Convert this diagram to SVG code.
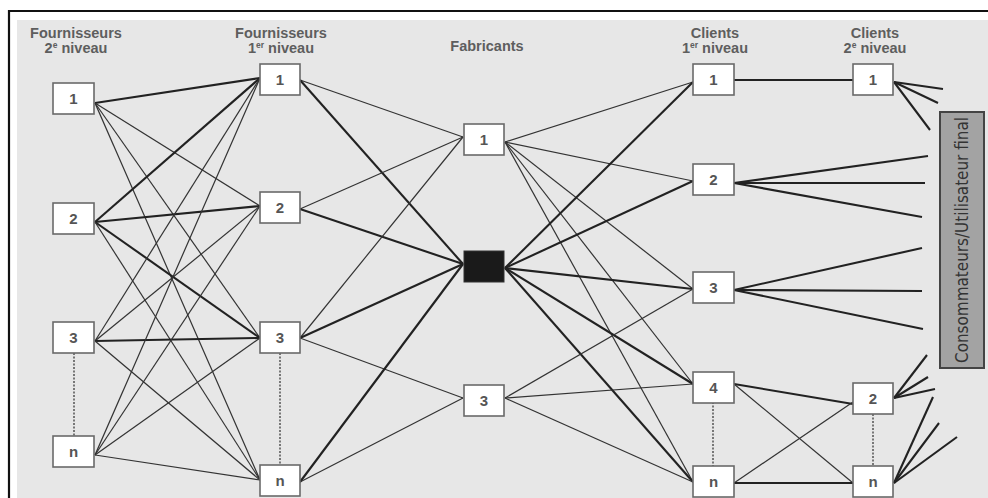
<svg xmlns="http://www.w3.org/2000/svg" width="988" height="498" viewBox="0 0 988 498">
<style>
.hdr{font-family:"Liberation Sans",Arial,sans-serif;font-weight:bold;font-size:14.5px;fill:#5e5e5e;text-anchor:middle}
.sup{font-size:8.5px}
.box{fill:#ffffff;stroke:#6a6a6a;stroke-width:1.6}
.lbl{font-family:"Liberation Sans",Arial,sans-serif;font-weight:bold;font-size:15px;fill:#555;text-anchor:middle}
.T{stroke:#222;stroke-width:2.1;fill:none}
.t{stroke:#333;stroke-width:1.2;fill:none}
.dot{stroke:#777;stroke-width:2;stroke-dasharray:2,1.5;fill:none}
</style>
<rect x="0" y="0" width="988" height="498" fill="#ffffff"/>
<rect x="17" y="20" width="980" height="490" fill="#e7e7e7"/>
<path d="M9 510 V11 H990" fill="none" stroke="#111" stroke-width="2.2"/>

<g id="headers">
<text class="hdr" x="76" y="38">Fournisseurs</text>
<text class="hdr" x="76" y="53">2<tspan class="sup" dy="-5">e</tspan><tspan dy="5"> niveau</tspan></text>
<text class="hdr" x="281" y="38">Fournisseurs</text>
<text class="hdr" x="281" y="53">1<tspan class="sup" dy="-5">er</tspan><tspan dy="5"> niveau</tspan></text>
<text class="hdr" x="487" y="51">Fabricants</text>
<text class="hdr" x="715" y="38">Clients</text>
<text class="hdr" x="715" y="53">1<tspan class="sup" dy="-5">er</tspan><tspan dy="5"> niveau</tspan></text>
<text class="hdr" x="875" y="38">Clients</text>
<text class="hdr" x="875" y="53">2<tspan class="sup" dy="-5">e</tspan><tspan dy="5"> niveau</tspan></text>
</g>

<g id="connectors">
<line class="T" x1="95" y1="103" x2="260" y2="78"/>
<line class="t" x1="95" y1="103" x2="260" y2="206"/>
<line class="t" x1="95" y1="103" x2="260" y2="338"/>
<line class="t" x1="95" y1="103" x2="260" y2="480"/>
<line class="T" x1="95" y1="222" x2="260" y2="78"/>
<line class="T" x1="95" y1="222" x2="260" y2="206"/>
<line class="T" x1="95" y1="222" x2="260" y2="338"/>
<line class="t" x1="95" y1="222" x2="260" y2="480"/>
<line class="t" x1="95" y1="341" x2="260" y2="78"/>
<line class="t" x1="95" y1="341" x2="260" y2="206"/>
<line class="T" x1="95" y1="341" x2="260" y2="338"/>
<line class="t" x1="95" y1="341" x2="260" y2="480"/>
<line class="t" x1="95" y1="455" x2="260" y2="78"/>
<line class="t" x1="95" y1="455" x2="260" y2="206"/>
<line class="t" x1="95" y1="455" x2="260" y2="338"/>
<line class="t" x1="95" y1="455" x2="260" y2="480"/>

<line class="t" x1="300" y1="80" x2="463" y2="137"/>
<line class="T" x1="300" y1="80" x2="463" y2="264"/>
<line class="t" x1="300" y1="209" x2="463" y2="137"/>
<line class="T" x1="300" y1="209" x2="463" y2="264"/>
<line class="t" x1="300" y1="338" x2="463" y2="137"/>
<line class="T" x1="300" y1="338" x2="463" y2="264"/>
<line class="t" x1="300" y1="338" x2="463" y2="398"/>
<line class="T" x1="300" y1="482" x2="463" y2="264"/>
<line class="t" x1="300" y1="482" x2="463" y2="398"/>

<line class="t" x1="505" y1="142" x2="693" y2="82"/>
<line class="t" x1="505" y1="142" x2="693" y2="181"/>
<line class="t" x1="505" y1="142" x2="693" y2="289"/>
<line class="t" x1="505" y1="142" x2="693" y2="384"/>
<line class="t" x1="505" y1="142" x2="693" y2="482"/>
<line class="T" x1="505" y1="268" x2="693" y2="82"/>
<line class="T" x1="505" y1="268" x2="693" y2="181"/>
<line class="T" x1="505" y1="268" x2="693" y2="289"/>
<line class="T" x1="505" y1="268" x2="693" y2="384"/>
<line class="T" x1="505" y1="268" x2="693" y2="482"/>
<line class="t" x1="505" y1="398" x2="693" y2="289"/>
<line class="t" x1="505" y1="398" x2="693" y2="384"/>
<line class="t" x1="505" y1="398" x2="693" y2="482"/>

<line class="T" x1="734" y1="80" x2="853" y2="80"/>
<line class="T" x1="734" y1="183" x2="928" y2="156"/>
<line class="T" x1="734" y1="183" x2="925" y2="183"/>
<line class="T" x1="734" y1="183" x2="922" y2="217"/>
<line class="T" x1="734" y1="290" x2="922" y2="248"/>
<line class="T" x1="734" y1="290" x2="922" y2="291"/>
<line class="T" x1="734" y1="290" x2="923" y2="329"/>
<line class="T" x1="894" y1="82" x2="943" y2="89"/>
<line class="T" x1="894" y1="82" x2="938" y2="103"/>
<line class="T" x1="894" y1="82" x2="930" y2="130"/>
<line class="T" x1="734" y1="384" x2="853" y2="404"/>
<line class="t" x1="734" y1="384" x2="853" y2="483"/>
<line class="t" x1="734" y1="483" x2="853" y2="402"/>
<line class="T" x1="734" y1="483" x2="853" y2="483"/>
<line class="T" x1="894" y1="398" x2="927" y2="355"/>
<line class="T" x1="894" y1="398" x2="928" y2="377"/>
<line class="T" x1="894" y1="398" x2="935" y2="389"/>
<line class="T" x1="894" y1="483" x2="933" y2="397"/>
<line class="T" x1="894" y1="483" x2="939" y2="423"/>
<line class="T" x1="894" y1="483" x2="957" y2="437"/>

<line class="dot" x1="74" y1="353" x2="74" y2="436"/>
<line class="dot" x1="280" y1="353" x2="280" y2="465"/>
<line class="dot" x1="713" y1="402" x2="713" y2="466"/>
<line class="dot" x1="873" y1="414" x2="873" y2="466"/>
</g>

<g id="f2-1"><rect class="box" x="53" y="83" width="41" height="31"/><text class="lbl" x="73.5" y="104">1</text></g>
<g id="f2-2"><rect class="box" x="53" y="203" width="41" height="31"/><text class="lbl" x="73.5" y="224">2</text></g>
<g id="f2-3"><rect class="box" x="53" y="322" width="41" height="31"/><text class="lbl" x="73.5" y="343">3</text></g>
<g id="f2-n"><rect class="box" x="53" y="436" width="41" height="31"/><text class="lbl" x="73.5" y="457">n</text></g>

<g id="f1-1"><rect class="box" x="260" y="64" width="40" height="31"/><text class="lbl" x="280" y="85">1</text></g>
<g id="f1-2"><rect class="box" x="260" y="192" width="40" height="31"/><text class="lbl" x="280" y="213">2</text></g>
<g id="f1-3"><rect class="box" x="260" y="322" width="40" height="31"/><text class="lbl" x="280" y="343">3</text></g>
<g id="f1-n"><rect class="box" x="260" y="465" width="40" height="31"/><text class="lbl" x="280" y="486">n</text></g>

<g id="fab-1"><rect class="box" x="464" y="124" width="40" height="31"/><text class="lbl" x="484" y="145">1</text></g>
<g id="fab-main"><rect x="464" y="251" width="40" height="31" fill="#1a1a1a" stroke="#333" stroke-width="1"/></g>
<g id="fab-3"><rect class="box" x="464" y="385" width="40" height="31"/><text class="lbl" x="484" y="406">3</text></g>

<g id="c1-1"><rect class="box" x="693" y="64" width="41" height="31"/><text class="lbl" x="713.5" y="85">1</text></g>
<g id="c1-2"><rect class="box" x="693" y="164" width="41" height="31"/><text class="lbl" x="713.5" y="185">2</text></g>
<g id="c1-3"><rect class="box" x="693" y="272" width="41" height="31"/><text class="lbl" x="713.5" y="293">3</text></g>
<g id="c1-4"><rect class="box" x="693" y="372" width="41" height="31"/><text class="lbl" x="713.5" y="393">4</text></g>
<g id="c1-n"><rect class="box" x="693" y="466" width="41" height="31"/><text class="lbl" x="713.5" y="487">n</text></g>

<g id="c2-1"><rect class="box" x="853" y="64" width="40" height="31"/><text class="lbl" x="873" y="85">1</text></g>
<g id="c2-2"><rect class="box" x="853" y="383" width="40" height="31"/><text class="lbl" x="873" y="404">2</text></g>
<g id="c2-n"><rect class="box" x="853" y="466" width="40" height="31"/><text class="lbl" x="873" y="487">n</text></g>

<g id="consommateurs">
<rect x="940" y="112" width="44" height="256" fill="#a3a3a3" stroke="#444" stroke-width="2"/>
<text transform="translate(968,240) rotate(-90)" x="0" y="0" text-anchor="middle" font-family="'Liberation Sans Narrow','DejaVu Sans Condensed',sans-serif" font-size="18" fill="#333" textLength="246" lengthAdjust="spacingAndGlyphs">Consommateurs/Utilisateur final</text>
</g>
</svg>
